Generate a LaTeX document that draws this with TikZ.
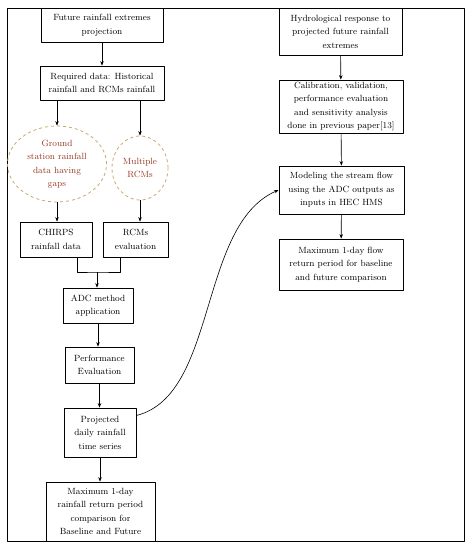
\documentclass[tikz,border=0pt]{standalone}
\usetikzlibrary{shapes.geometric,arrows.meta}
\definecolor{gapred}{RGB}{150,55,35}
\definecolor{dashtan}{RGB}{200,168,110}
\begin{document}
\begin{tikzpicture}[x=1pt, y=-1pt, font=\fontsize{9}{13.5}\selectfont, line join=round, >={Stealth[length=4.5pt,width=3.5pt]},
	box/.style={draw, thick, align=center, inner sep=1pt},
	blob/.style={ellipse, draw=dashtan, thick, dashed, align=center, text=gapred, inner sep=0pt},
	link/.style={semithick, ->}]
		\def\xmin{7} \def\xmax{464}
		\def\ymin{8} \def\ymax{541}
		\useasboundingbox (0,0) rectangle (474,550);
		\draw[thin] (\xmin,\ymin) rectangle (\xmax,\ymax);
		% left column
		\node[box, minimum width=122pt, minimum height=34pt] (fut) at (102,25) {Future rainfall extremes\\projection};
		\node[box, minimum width=124pt, minimum height=34pt] (req) at (102,83) {Required data: Historical\\rainfall and RCMs rainfall};
		\node[blob, minimum width=99pt, minimum height=76pt] (gnd) at (57,164) {Ground\\station rainfall\\data having\\gaps};
		\node[blob, minimum width=56pt, minimum height=64pt] (mul) at (140,168) {Multiple\\RCMs};
		\node[box, minimum width=72pt, minimum height=35pt] (chirps) at (56,239.5) {CHIRPS\\rainfall data};
		\node[box, minimum width=65pt, minimum height=35pt] (rcme) at (135.5,239.5) {RCMs\\evaluation};
		\node[box, minimum width=70pt, minimum height=35pt] (adc) at (98,305.5) {ADC method\\application};
		\node[box, minimum width=69pt, minimum height=36pt] (perf) at (99.5,365) {Performance\\Evaluation};
		\node[box, minimum width=72pt, minimum height=49pt] (proj) at (100,432.5) {Projected\\daily rainfall\\time series};
		\node[box, minimum width=109pt, minimum height=59pt] (maxr) at (100.5,511.5) {Maximum 1-day\\rainfall return period\\comparison for\\Baseline and Future};
		% right column
		\node[box, minimum width=123pt, minimum height=47pt] (hyd) at (340.5,31.5) {Hydrological response to\\projected future rainfall\\extremes};
		\node[box, minimum width=124pt, minimum height=53pt] (cal) at (341,106.5) {Calibration, validation,\\performance evaluation\\and sensitivity analysis\\done in previous paper[13]};
		\node[box, minimum width=125pt, minimum height=48pt] (mod) at (341.5,190) {Modeling the stream flow\\using the ADC outputs as\\inputs in HEC HMS};
		\node[box, minimum width=124pt, minimum height=51pt] (maxf) at (341,264.5) {Maximum 1-day flow\\return period for baseline\\and future comparison};
		\coordinate (join) at (97,272);
		\draw[link] (fut) -- (req);
		\draw[link] (req.south -| gnd) -- (gnd);
		\draw[link] (req.south -| mul) -- (mul);
		\draw[link] (gnd) -- (gnd |- chirps.north);
		\draw[link] (mul) -- (mul |- rcme.north);
		\draw[semithick] (chirps.south -| 77,0) |- (join) -| (rcme.south -| 120,0);
		\draw[link] (join) -- (join |- adc.north);
		\draw[link] (adc) -- (adc |- perf.north);
		\draw[link] (perf) -- (perf |- proj.north);
		\draw[link] (proj) -- (proj |- maxr.north);
		\draw[link] (hyd) -- (cal);
		\draw[link] (cal) -- (mod);
		\draw[link] (mod) -- (maxf);
		\draw[link] (proj.east) ++(0,-17) .. controls (218,395) and (198,225) .. (mod.west);
	\end{tikzpicture}
\end{document}
